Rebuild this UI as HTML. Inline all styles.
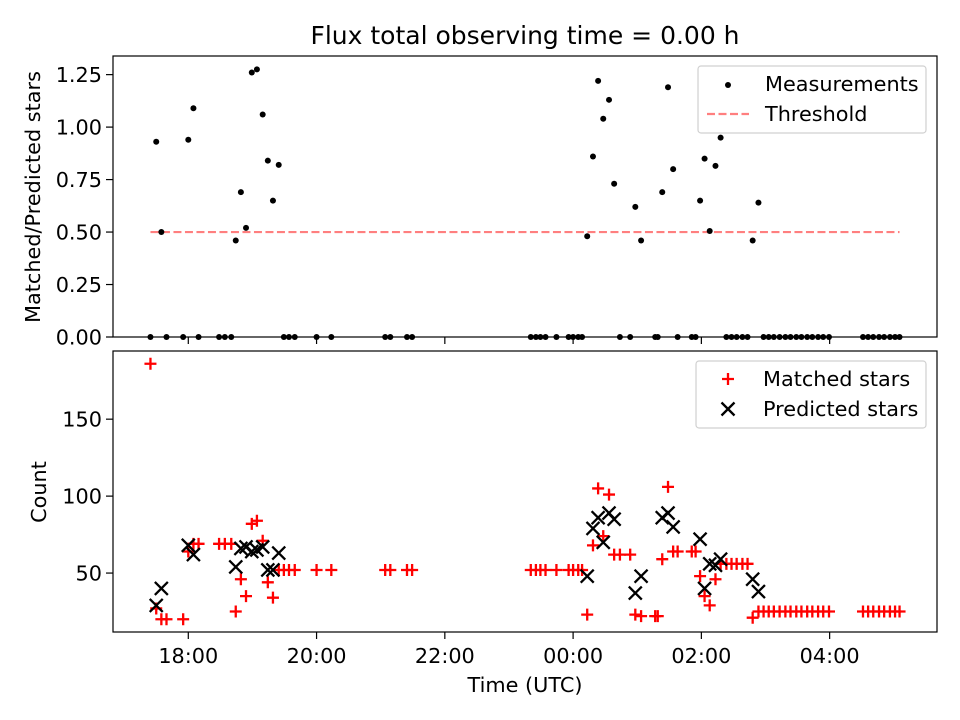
<!DOCTYPE html>
<html><head><meta charset="utf-8"><style>
body{margin:0;background:#fff;}
svg{display:block;font-family:"DejaVu Sans","Liberation Sans",sans-serif;}
</style></head><body>
<svg id="c" width="960" height="720" xmlns="http://www.w3.org/2000/svg"></svg>
<script>
const times=[-0.59,-0.50,-0.42,-0.34,-0.08,0,0.08,0.16,0.48,0.57,0.67,0.74,0.82,0.90,0.99,1.07,1.16,1.24,1.32,1.41,1.49,1.57,1.66,2.00,2.23,3.07,3.15,3.41,3.49,
5.34,5.42,5.49,5.57,5.74,5.93,6.00,6.08,6.14,6.22,6.31,6.39,6.47,6.56,6.64,6.73,6.89,6.97,7.06,7.28,7.32,7.39,7.48,7.56,7.63,7.85,7.91,7.98,8.05,8.13,8.22,8.30,8.39,8.47,8.55,8.64,8.72,8.80,8.89,
8.97,9.05,9.13,9.22,9.31,9.39,9.48,9.56,9.65,9.73,9.82,9.90,9.99,10.52,10.60,10.68,10.77,10.85,10.94,11.02,11.09];
const flux=[0,0.93,0.50,0,0,0.94,1.09,0,0,0,0,0.46,0.69,0.52,1.26,1.275,1.06,0.84,0.65,0.82,0,0,0,0,0,0,0,0,0,
0,0,0,0,0,0,0,0,0,0.48,0.86,1.22,1.04,1.13,0.73,0,0,0.62,0.46,0,0,0.69,1.19,0.80,0,0,0,0.65,0.85,0.505,0.815,0.95,0,0,0,0,0,0.46,0.64,
0,0,0,0,0,0,0,0,0,0,0,0,0,0,0,0,0,0,0,0,0];
const matched=[186,27,20,20,20,64,69,69,69,69,69,25,46,35,82,84,71,44,34,52,52,52,52,52,52,52,52,52,52,
52,52,52,52,52,52,52,52,52,23,68,105,74,101,62,62,62,23,22,22,22,59,106,64,64,64,64,48,35,29,46,56,56,56,56,56,56,21,25,
25,25,25,25,25,25,25,25,25,25,25,25,25,25,25,25,25,25,25,25,25];
const predicted=[null,29,40,null,null,68,62,null,null,null,null,54,66,67,64,65,67,52,52,63,null,null,null,null,null,null,null,null,null,
null,null,null,null,null,null,null,null,null,48,79,86,70,89,85,null,null,37,48,null,null,86,89,80,null,null,null,72,40,56,55,59,null,null,null,null,null,46,38,
null,null,null,null,null,null,null,null,null,null,null,null,null,null,null,null,null,null,null,null,null];
const threshold=0.5;
const xTickHours=[0,2,4,6,8,10];
const xTickLabels=["18:00","20:00","22:00","00:00","02:00","04:00"];
const topTicks=[0,0.25,0.5,0.75,1.0,1.25];
const topTickLabels=["0.00","0.25","0.50","0.75","1.00","1.25"];
const botTicks=[50,100,150];
const botTickLabels=["50","100","150"];

const NS="http://www.w3.org/2000/svg";
const svg=document.getElementById('c');
function el(tag,attrs,parent,text){const e=document.createElementNS(NS,tag);for(const k in attrs)e.setAttribute(k,attrs[k]);if(text!==undefined)e.textContent=text;(parent||svg).appendChild(e);return e;}
const L=113,R=937,T1=56,B1=337,T2=351,B2=632;
const FS=20.8;
const tmin=Math.min(...times),tmax=Math.max(...times),tr=tmax-tmin;
const x0=tmin-0.05*tr,x1=tmax+0.05*tr;
const X=h=>L+(h-x0)/(x1-x0)*(R-L);
const fmax=Math.max(...flux)*1.05;
const Y1=v=>B1-(v/fmax)*(B1-T1);
const allc=matched.concat(predicted.filter(v=>v!==null));
const cmin=Math.min(...allc),cmax=Math.max(...allc),cr=cmax-cmin;
const c0=cmin-0.05*cr,c1=cmax+0.05*cr;
const Y2=v=>B2-(v-c0)/(c1-c0)*(B2-T2);

const t=el('text',{x:525,y:44,'text-anchor':'middle','font-size':25,fill:'#000'},svg,'Flux total observing time = 0.00 h');


// top panel
const g1=el('g',{});
el('rect',{x:L,y:T1,width:R-L,height:B1-T1,fill:'#fff'},g1);
const th=el('line',{x1:X(tmin),x2:X(tmax),y1:Y1(threshold),y2:Y1(threshold),stroke:'#ff7f7f','stroke-width':2.2,'stroke-dasharray':'8,3.5'},g1);

times.forEach((h,i)=>{const c=el('circle',{cx:X(h),cy:Y1(flux[i]),r:3,fill:'#000'},g1);

});
el('rect',{x:L,y:T1,width:R-L,height:B1-T1,fill:'none',stroke:'#000','stroke-width':1.2},g1);
topTicks.forEach((v,i)=>{el('line',{x1:L-7,x2:L,y1:Y1(v),y2:Y1(v),stroke:'#000','stroke-width':1.2},g1);
const tl=el('text',{x:L-11,y:Y1(v)+7.5,'text-anchor':'end','font-size':FS},g1,topTickLabels[i]);
});
xTickHours.forEach(h=>{el('line',{x1:X(h),x2:X(h),y1:B1,y2:B1+7,stroke:'#000','stroke-width':1.2},g1);});
const yl1=el('text',{transform:'translate(40,197) rotate(-90)','text-anchor':'middle','font-size':FS},g1,'Matched/Predicted stars');

// legend top
const lg1=el('g',{});
el('rect',{x:698,y:66,width:228,height:67,rx:3,fill:'#fff',stroke:'#ccc','stroke-width':1.2,opacity:0.9},lg1);
el('circle',{cx:728,cy:85,r:3,fill:'#000'},lg1);
el('text',{x:765,y:91,'font-size':FS},lg1,'Measurements');
el('line',{x1:707,x2:749,y1:114,y2:114,stroke:'#ff7f7f','stroke-width':2.2,'stroke-dasharray':'8,3.5'},lg1);
el('text',{x:765,y:121,'font-size':FS},lg1,'Threshold');

// bottom panel
const g2=el('g',{});
el('rect',{x:L,y:T2,width:R-L,height:B2-T2,fill:'#fff'},g2);
const s=6,sx=6.5;
times.forEach((h,i)=>{const x=X(h),y=Y2(matched[i]);
const p=el('path',{d:`M${x-s} ${y}H${x+s}M${x} ${y-s}V${y+s}`,stroke:'#f00','stroke-width':2.3,fill:'none'},g2);

});
times.forEach((h,i)=>{if(predicted[i]===null)return;const x=X(h),y=Y2(predicted[i]);
const p=el('path',{d:`M${x-sx} ${y-sx}L${x+sx} ${y+sx}M${x-sx} ${y+sx}L${x+sx} ${y-sx}`,stroke:'#000','stroke-width':2.3,fill:'none'},g2);

});
el('rect',{x:L,y:T2,width:R-L,height:B2-T2,fill:'none',stroke:'#000','stroke-width':1.2},g2);
botTicks.forEach((v,i)=>{el('line',{x1:L-7,x2:L,y1:Y2(v),y2:Y2(v),stroke:'#000','stroke-width':1.2},g2);
const tl=el('text',{x:L-11,y:Y2(v)+7.5,'text-anchor':'end','font-size':FS},g2,botTickLabels[i]);
});
xTickHours.forEach((h,i)=>{el('line',{x1:X(h),x2:X(h),y1:B2,y2:B2+7,stroke:'#000','stroke-width':1.2},g2);
const tl=el('text',{x:X(h),y:B2+31,'text-anchor':'middle','font-size':FS},g2,xTickLabels[i]);
});
const yl2=el('text',{transform:'translate(46,492) rotate(-90)','text-anchor':'middle','font-size':FS},g2,'Count');

const xl=el('text',{x:525,y:692,'text-anchor':'middle','font-size':FS},g2,'Time (UTC)');

const lg2=el('g',{});
el('rect',{x:696,y:361,width:230,height:67,rx:3,fill:'#fff',stroke:'#ccc','stroke-width':1.2,opacity:0.9},lg2);
el('path',{d:'M722 379H734M728 373V385',stroke:'#f00','stroke-width':2.3},lg2);
el('text',{x:763,y:386,'font-size':FS},lg2,'Matched stars');
el('path',{d:'M721.5 402.5L734.5 415.5M721.5 415.5L734.5 402.5',stroke:'#000','stroke-width':2.3},lg2);
el('text',{x:763,y:416,'font-size':FS},lg2,'Predicted stars');
</script>
</body></html>
